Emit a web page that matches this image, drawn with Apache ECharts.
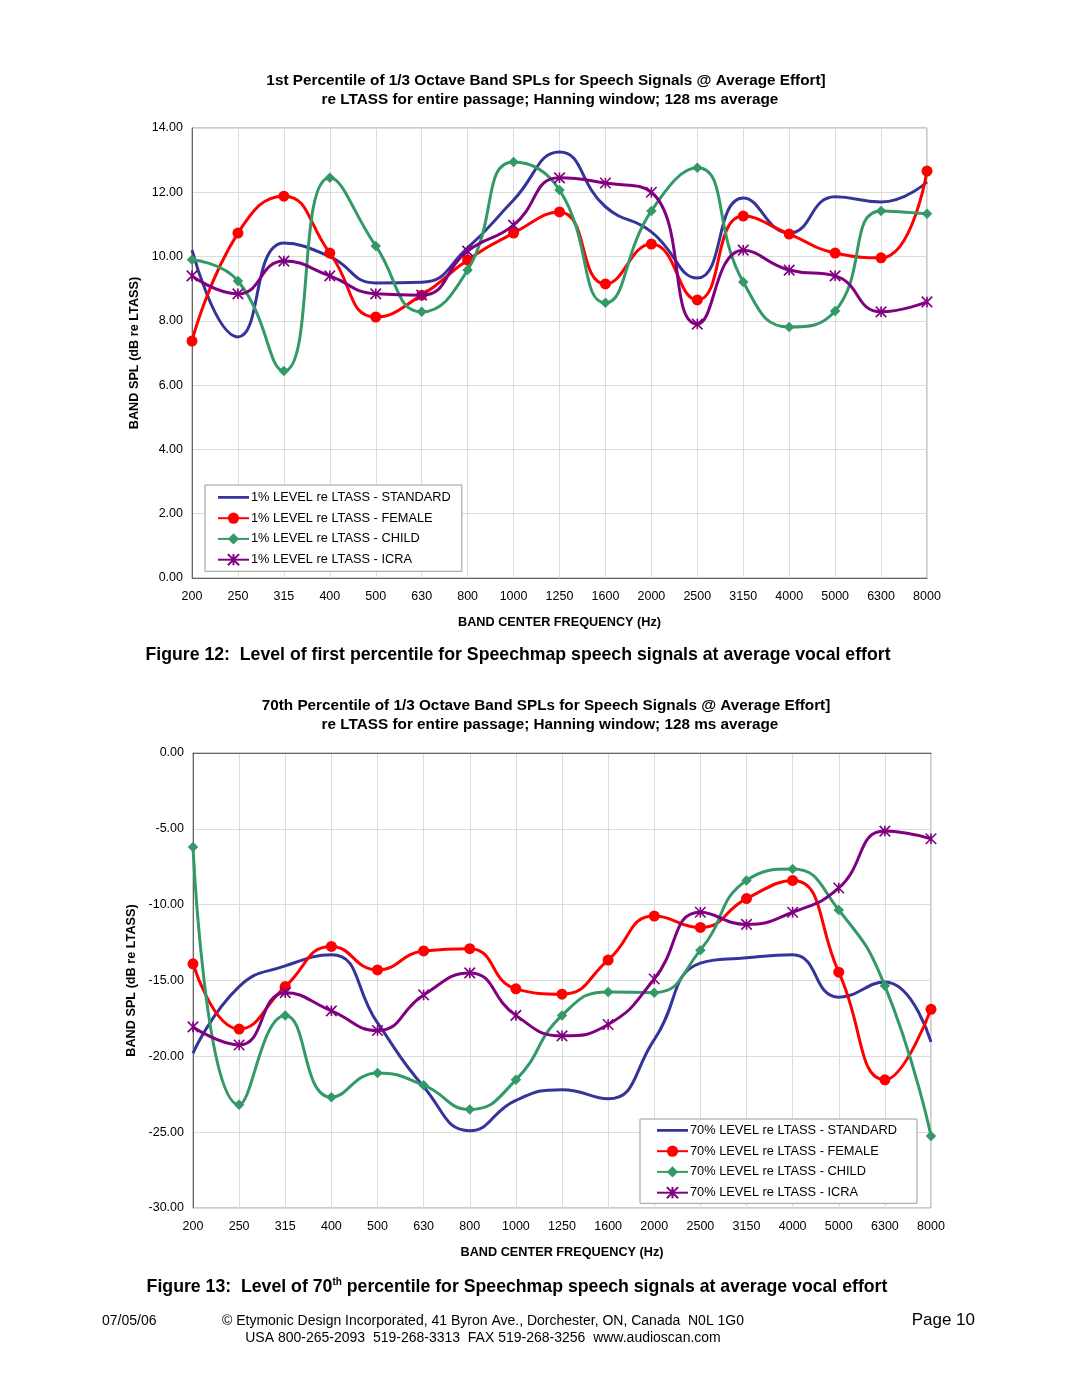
<!DOCTYPE html>
<html><head><meta charset="utf-8">
<script src="https://cdn.jsdelivr.net/npm/echarts@6/dist/echarts.min.js"></script>
<style>html,body{margin:0;padding:0;background:#fff}#c{width:1080px;height:1397px}</style>
</head><body><div id="c"></div>
<script>
const categories = ['200','250','315','400','500','630','800','1000','1250','1600','2000','2500','3150','4000','5000','6300','8000'];

const top_standard = [10.2,7.5,10.42,10.0,9.18,9.2,10.27,11.76,13.25,11.55,10.77,9.33,11.82,10.73,11.86,11.7,12.32];
const top_female   = [7.37,10.73,11.88,10.11,8.12,8.8,9.89,10.73,11.39,9.15,10.39,8.65,11.26,10.7,10.11,9.96,12.66];
const top_child    = [9.9,9.24,6.44,12.45,10.33,8.28,9.58,12.94,12.07,8.56,11.42,12.76,9.21,7.81,8.31,11.42,11.33];
const top_icra     = [9.4,8.84,9.86,9.4,8.84,8.8,10.17,10.98,12.45,12.29,12.0,7.9,10.2,9.58,9.4,8.28,8.59];

const bot_standard = [-19.8,-15.4,-14.04,-13.3,-17.8,-22.0,-24.9,-22.9,-22.2,-22.8,-18.9,-13.85,-13.5,-13.3,-16.1,-15.1,-19.05];
const bot_female   = [-13.9,-18.2,-15.4,-12.75,-14.3,-13.05,-12.9,-15.55,-15.9,-13.65,-10.75,-11.5,-9.6,-8.4,-14.45,-21.55,-16.9];
const bot_child    = [-6.2,-23.2,-17.3,-22.7,-21.1,-21.9,-23.5,-21.55,-17.3,-15.75,-15.8,-13.0,-8.4,-7.65,-10.35,-15.35,-25.25];
const bot_icra     = [-18.06,-19.25,-15.8,-17.0,-18.3,-15.95,-14.5,-17.3,-18.65,-17.9,-14.9,-10.5,-11.3,-10.5,-8.9,-5.15,-5.65];

const topNames = ['1% LEVEL re LTASS - STANDARD','1% LEVEL re LTASS - FEMALE','1% LEVEL re LTASS - CHILD','1% LEVEL re LTASS - ICRA'];
const botNames = ['70% LEVEL re LTASS - STANDARD','70% LEVEL re LTASS - FEMALE','70% LEVEL re LTASS - CHILD','70% LEVEL re LTASS - ICRA'];

const FONT = "'Liberation Sans', Arial, sans-serif";
const BLUE = '#34349a', RED = '#ff0000', GREEN = '#339966', PURPLE = '#800080';
const STAR = 'path://M0,0L10,10M10,0L0,10M5,0L5,10';
const LINE_ICON = 'path://M0,0L0,0ZM0,6L31,6L31,8.8L0,8.8ZM31,14L31,14Z';
const SM = 0.5;

function mkSeries(names, data, idx){
  const styles = [
    {color: BLUE, symbol: 'none', size: 0},
    {color: RED, symbol: 'circle', size: 11},
    {color: GREEN, symbol: 'diamond', size: 10.5},
    {color: PURPLE, symbol: STAR, size: 10.5}
  ];
  return names.map((n, i) => {
    const s = styles[i];
    const o = {
      name: n, type: 'line', xAxisIndex: idx, yAxisIndex: idx,
      data: data[i], smooth: SM, symbol: s.symbol, symbolSize: s.size,
      lineStyle: {color: s.color, width: 3},
      itemStyle: {color: s.color},
      emphasis: {disabled: true}, animation: false, z: 2 + i
    };
    if (i === 3) o.itemStyle = {color: 'rgba(0,0,0,0)', borderColor: PURPLE, borderWidth: 1.6};
    return o;
  });
}

function mkX(grid){
  return {
    type: 'category', gridIndex: grid, data: categories, boundaryGap: false,
    axisLine: {lineStyle: {color: '#666', width: 1}},
    axisTick: {show: false},
    axisLabel: {color: '#000', fontFamily: FONT, fontSize: 12.5, margin: 12},
    splitLine: {show: true, lineStyle: {color: '#dcdcdc', width: 1}},
    name: 'BAND CENTER FREQUENCY (Hz)', nameLocation: 'middle', nameGap: 38,
    nameTextStyle: {color: '#000', fontFamily: FONT, fontSize: 12.7, fontWeight: 'bold'}
  };
}
function mkY(grid, min, max, interval, gap){
  return {
    type: 'value', gridIndex: grid, min: min, max: max, interval: interval,
    axisLine: {show: true, lineStyle: {color: '#666', width: 1}},
    axisTick: {show: false},
    axisLabel: {color: '#000', fontFamily: FONT, fontSize: 12.5, margin: 9, formatter: v => v.toFixed(2)},
    splitLine: {show: true, lineStyle: {color: '#dcdcdc', width: 1}},
    name: 'BAND SPL (dB re LTASS)', nameLocation: 'middle', nameGap: gap,
    nameTextStyle: {color: '#000', fontFamily: FONT, fontSize: 12.7, fontWeight: 'bold'}
  };
}

function txt(x, y, text, size, bold, align){
  return {type: 'text', silent: true, style: {x: x, y: y, text: text, fill: '#000',
    font: (bold ? 'bold ' : '') + size + 'px ' + FONT, textAlign: align || 'center', textVerticalAlign: 'middle'}};
}
function legendData(names){
  return names.map((n, i) => i === 0 ? {name: n, icon: LINE_ICON} : {name: n});
}

const chart = echarts.init(document.getElementById('c'), null, {renderer: 'canvas'});
chart.setOption({
  animation: false,
  backgroundColor: '#fff',
  grid: [
    {left: 192, top: 128, width: 735, height: 450, show: true, borderColor: '#999', borderWidth: 1, backgroundColor: '#fff'},
    {left: 193, top: 753, width: 738, height: 455, show: true, borderColor: '#999', borderWidth: 1, backgroundColor: '#fff'}
  ],
  xAxis: [mkX(0), mkX(1)],
  yAxis: [mkY(0, 0, 14, 2, 46), mkY(1, -30, 0, 5, 52)],
  legend: [
    {data: legendData(topNames), orient: 'vertical', left: 205, top: 485,
     borderColor: '#999', borderWidth: 1, padding: [5, 11, 5, 12], itemGap: 7.7,
     itemWidth: 31, itemHeight: 14, backgroundColor: '#fff',
     textStyle: {color: '#000', fontFamily: FONT, fontSize: 12.8, padding: [0, 0, 0, -3]}, selectedMode: false},
    {data: legendData(botNames), orient: 'vertical', left: 640, top: 1119,
     borderColor: '#999', borderWidth: 1, padding: [4, 20, 4, 16], itemGap: 7.7,
     itemWidth: 31, itemHeight: 14, backgroundColor: '#fff',
     textStyle: {color: '#000', fontFamily: FONT, fontSize: 12.8, padding: [0, 0, 0, -3]}, selectedMode: false}
  ],
  series: [].concat(
    mkSeries(topNames, [top_standard, top_female, top_child, top_icra], 0),
    mkSeries(botNames, [bot_standard, bot_female, bot_child, bot_icra], 1)
  ),
  graphic: [
    txt(546, 81, '1st Percentile of 1/3 Octave Band SPLs for Speech Signals @ Average Effort]', 15.3, true),
    txt(550, 100, 're LTASS for entire passage; Hanning window; 128 ms average', 15.3, true),
    txt(518, 655, 'Figure 12:  Level of first percentile for Speechmap speech signals at average vocal effort', 17.7, true),
    txt(546, 706, '70th Percentile of 1/3 Octave Band SPLs for Speech Signals @ Average Effort]', 15.3, true),
    txt(550, 725, 're LTASS for entire passage; Hanning window; 128 ms average', 15.3, true),
    {type: 'text', silent: true, style: {x: 517, y: 1287, textAlign: 'center', textVerticalAlign: 'middle',
      text: '{a|Figure 13:  Level of 70}{s|th}{a| percentile for Speechmap speech signals at average vocal effort}',
      rich: {a: {font: 'bold 17.7px ' + FONT, fill: '#000'}, s: {font: 'bold 10px ' + FONT, fill: '#000', padding: [0, 0, 10, 0]}}}},
    txt(102, 1321, '07/05/06', 14, false, 'left'),
    txt(483, 1321, '\u00A9 Etymonic Design Incorporated, 41 Byron Ave., Dorchester, ON, Canada  N0L 1G0', 14, false),
    txt(483, 1338, 'USA 800-265-2093  519-268-3313  FAX 519-268-3256  www.audioscan.com', 14, false),
    txt(975, 1320, 'Page 10', 17, false, 'right')
  ]
});
</script></body></html>
